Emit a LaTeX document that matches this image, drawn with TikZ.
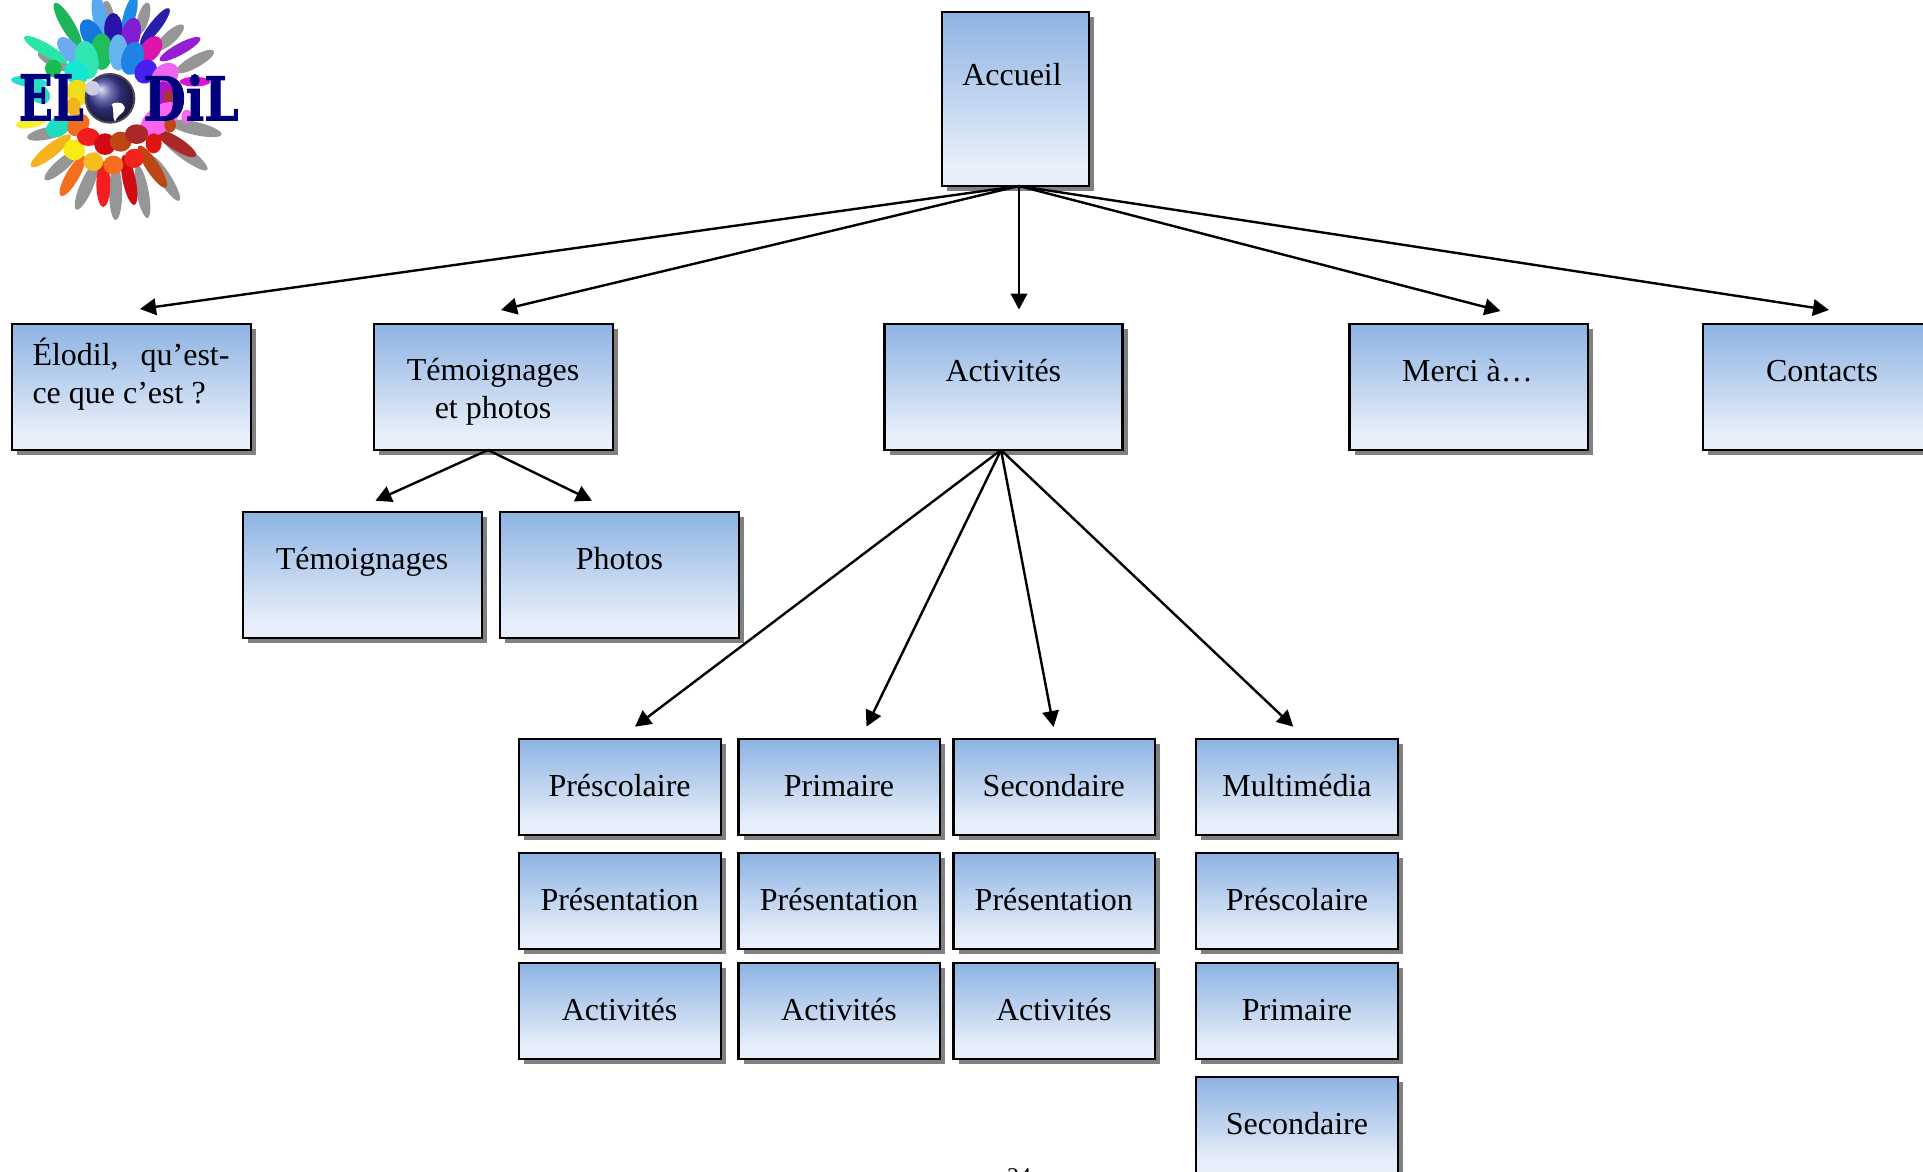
\documentclass[tikz,border=0pt]{standalone}
\usepackage{fontspec}
\usepackage{graphicx}
\setmainfont{Liberation Serif}
\newfontfamily\logofont[FakeBold=1.6]{DejaVu Serif}
\usetikzlibrary{arrows.meta,shadows}
\definecolor{boxtop}{RGB}{141,179,226}
\definecolor{boxbot}{RGB}{232,239,250}
\definecolor{shadowgray}{RGB}{128,128,128}
\definecolor{logonavy}{RGB}{0,0,125}
\pgfdeclareverticalshading{boxshade}{100bp}{color(0bp)=(boxbot); color(31bp)=(boxbot); color(75bp)=(boxtop); color(100bp)=(boxtop)}
\tikzset{
  boxnode/.style={rectangle,draw=black,line width=2.3pt,inner sep=0pt,outer sep=0pt,
    shading=boxshade,
    drop shadow={shadow xshift=5pt,shadow yshift=-5pt,fill=shadowgray,opacity=1}},
  boxtext/.style={inner sep=0pt,outer sep=0pt,anchor=base,text=black,
    font=\fontsize{32}{38}\selectfont},
  conn/.style={line width=2.4pt,-{Triangle[length=16pt,width=16.5pt]}}
}
% name, x1, y1, x2, y2
\newcommand{\hbx}[5]{\node[boxnode,minimum width={#4-#2},minimum height={#5-#3}] (#1) at ({(#2+#4)/2},{(#3+#5)/2}) {};}
% name, cx, baseline, text
\newcommand{\htx}[4]{\node[boxtext] (#1) at (#2,#3) {#4};}
% x1,y1,x2,y2,width,r,g,b : one petal of the logo, as an ellipse
\newcommand{\hpt}[8]{%
  \definecolor{pc}{RGB}{#6,#7,#8}%
  \pgfmathsetmacro{\pang}{atan2(#4-#2,#3-#1)}%
  \pgfmathsetmacro{\prx}{(veclen(#3-#1,#4-#2)/2+#5/2)/3}%
  \pgfmathsetmacro{\pry}{#5/2*1.3/3}%
  \fill[pc] ({(#1+#3)/2},{(#2+#4)/2}) ellipse [x radius=\prx pt,y radius=\pry pt,rotate=-\pang];}
\begin{document}
\begin{tikzpicture}[x=1pt,y=-1pt]
\path[use as bounding box,clip] (0,0) rectangle (1923,1171);
\fill[white] (0,0) rectangle (1923,1171);
% logo
\begin{scope}[x=0.3333pt,y=-0.3333pt]
\hpt{320}{15}{330}{90}{26}{150}{150}{150}
\hpt{440}{20}{420}{90}{26}{150}{150}{150}
\hpt{540}{85}{480}{140}{28}{150}{150}{150}
\hpt{630}{160}{540}{210}{28}{150}{150}{150}
\hpt{650}{400}{520}{370}{30}{150}{150}{150}
\hpt{610}{500}{490}{410}{30}{150}{150}{150}
\hpt{530}{590}{460}{480}{28}{150}{150}{150}
\hpt{440}{640}{415}{510}{28}{150}{150}{150}
\hpt{347}{645}{347}{510}{30}{150}{150}{150}
\hpt{235}{615}{285}{500}{30}{150}{150}{150}
\hpt{145}{530}{225}{460}{28}{150}{150}{150}
\hpt{95}{410}{190}{390}{28}{150}{150}{150}
\hpt{125}{165}{200}{205}{26}{150}{150}{150}
\hpt{172}{22}{235}{128}{30}{30}{180}{90}
\hpt{290}{0}{310}{100}{34}{90}{170}{240}
\hpt{402}{0}{375}{95}{28}{30}{140}{230}
\hpt{500}{35}{430}{125}{26}{40}{30}{170}
\hpt{590}{120}{490}{175}{26}{150}{30}{210}
\hpt{85}{118}{190}{180}{28}{40}{230}{170}
\hpt{45}{240}{130}{250}{24}{40}{220}{210}
\hpt{60}{375}{130}{360}{24}{245}{240}{50}
\hpt{105}{490}{200}{415}{30}{245}{180}{30}
\hpt{190}{575}{245}{480}{30}{245}{110}{30}
\hpt{310}{605}{310}{500}{32}{245}{30}{30}
\hpt{400}{600}{375}{480}{30}{210}{10}{20}
\hpt{490}{550}{425}{450}{30}{190}{70}{20}
\hpt{575}{460}{480}{400}{30}{170}{40}{40}
\hpt{550}{245}{620}{245}{22}{220}{20}{210}
\hpt{262}{80}{290}{130}{46}{20}{120}{220}
\hpt{340}{60}{340}{115}{42}{40}{20}{170}
\hpt{400}{75}{385}{135}{44}{130}{30}{210}
\hpt{465}{130}{440}{165}{44}{220}{20}{170}
\hpt{190}{130}{230}{175}{40}{110}{170}{240}
\hpt{305}{125}{305}{185}{50}{30}{190}{90}
\hpt{255}{150}{265}{210}{54}{50}{230}{180}
\hpt{355}{125}{355}{190}{44}{100}{180}{240}
\hpt{405}{150}{390}{200}{50}{30}{130}{230}
\hpt{155}{205}{165}{205}{40}{20}{190}{80}
\hpt{220}{210}{240}{225}{52}{20}{230}{210}
\hpt{445}{205}{430}{225}{50}{70}{30}{240}
\hpt{510}{215}{480}{240}{52}{240}{100}{240}
\hpt{490}{270}{490}{310}{52}{170}{20}{200}
\hpt{505}{290}{506}{290}{30}{170}{50}{60}
\hpt{510}{335}{450}{380}{60}{250}{100}{240}
\hpt{560}{350}{561}{350}{32}{250}{100}{240}
\hpt{510}{375}{511}{375}{34}{190}{70}{20}
\hpt{100}{270}{130}{290}{42}{40}{220}{190}
\hpt{230}{265}{240}{290}{52}{240}{220}{30}
\hpt{220}{320}{221}{320}{42}{240}{180}{30}
\hpt{160}{390}{190}{370}{44}{30}{220}{190}
\hpt{225}{385}{245}{365}{46}{240}{110}{30}
\hpt{225}{445}{220}{455}{50}{250}{235}{20}
\hpt{280}{490}{280}{480}{46}{245}{190}{30}
\hpt{340}{500}{340}{490}{46}{245}{110}{30}
\hpt{400}{470}{405}{480}{46}{245}{35}{30}
\hpt{460}{430}{462}{430}{46}{225}{20}{20}
\hpt{265}{410}{265}{412}{52}{240}{30}{30}
\hpt{315}{425}{315}{440}{50}{210}{10}{20}
\hpt{362}{420}{362}{430}{50}{190}{70}{20}
\hpt{410}{400}{410}{405}{54}{170}{40}{40}
\fill[black!70] (330,295) circle (76);
\shade[ball color=logonavy!75] (330,295) circle (70);
\fill[white!80!logonavy] (278,265) circle (22);
\fill[white] (335,312) .. controls (360,300) and (385,315) .. (370,335) .. controls (360,345) and (350,350) .. (345,365) .. controls (335,350) and (345,335) .. (335,312);
\node[inner sep=0pt,anchor=south west,text=logonavy] (logoel) at (56,362) {\resizebox{195\dimexpr 0.3333pt\relax}{46pt}{\logofont\bfseries EL}};
\node[inner sep=0pt,anchor=south west,text=logonavy] (logodil) at (430,362) {\resizebox{285\dimexpr 0.3333pt\relax}{46pt}{\logofont\bfseries DiL}};
\end{scope}
% boxes
\hbx{accueil}{942}{12}{1089}{186}
\hbx{elodil}{12}{324}{251}{450}
\hbx{temphotos}{374}{324}{613}{450}
\hbx{activites}{884.5}{324}{1122.5}{450}
\hbx{merci}{1349.5}{324}{1588}{450}
\hbx{contacts}{1703}{324}{1942}{450}
\hbx{temoign}{243}{512}{482}{638}
\hbx{photos}{500}{512}{739}{638}
\hbx{apre}{519}{739}{721}{835}
\hbx{bpri}{738.5}{739}{940}{835}
\hbx{csec}{953.5}{739}{1155}{835}
\hbx{dmul}{1196}{739}{1398}{835}
\hbx{apres}{519}{853}{721}{949}
\hbx{bpres}{738.5}{853}{940}{949}
\hbx{cpres}{953.5}{853}{1155}{949}
\hbx{dpre}{1196}{853}{1398}{949}
\hbx{aact}{519}{963}{721}{1059}
\hbx{bact}{738.5}{963}{940}{1059}
\hbx{cact}{953.5}{963}{1155}{1059}
\hbx{dpri}{1196}{963}{1398}{1059}
\hbx{dsec}{1196}{1077}{1398}{1173}
% texts
\htx{taccueil}{1012}{85.7}{Accueil}
\node[boxtext,anchor=base west,align=left] (telodil) at (32.5,403) {\hbox to 197pt{Élodil,\hfill qu’est-}\\ce que c’est ?};
\node[boxtext,align=center] (ttemphotos) at (493,418.3) {Témoignages\\et photos};
\htx{tactivites}{1003.4}{381}{Activités}
\htx{tmerci}{1467.5}{381}{Merci à…}
\htx{tcontacts}{1822}{381}{Contacts}
\htx{ttemoign}{362}{569.5}{Témoignages}
\htx{tphotos}{619.5}{569.5}{Photos}
\htx{tapre}{619.6}{796}{Préscolaire}
\htx{tbpri}{839}{796}{Primaire}
\htx{tcsec}{1053.8}{796}{Secondaire}
\htx{tdmul}{1297}{796}{Multimédia}
\htx{tapres}{619.6}{910}{Présentation}
\htx{tbpres}{839}{910}{Présentation}
\htx{tcpres}{1053.8}{910}{Présentation}
\htx{tdpre}{1297}{910}{Préscolaire}
\htx{taact}{619.6}{1020}{Activités}
\htx{tbact}{839}{1020}{Activités}
\htx{tcact}{1053.8}{1020}{Activités}
\htx{tdpri}{1297}{1020}{Primaire}
\htx{tdsec}{1297}{1134}{Secondaire}
% arrow ends
\coordinate (e1) at (140,309);
\coordinate (e2) at (501,310);
\coordinate (e3) at (1019,309.5);
\coordinate (e4) at (1500.5,311);
\coordinate (e5) at (1829,310);
\coordinate (e6) at (375.5,500.7);
\coordinate (e7) at (592,500.7);
\coordinate (e8) at (635,726.7);
\coordinate (e9) at (866.5,726.7);
\coordinate (e10) at (1053.6,727);
\coordinate (e11) at (1293.3,726.7);
\foreach \e in {e1,e2,e3,e4,e5}
  \draw[conn] ([xshift=3.5pt]accueil.south) -- (\e);
\foreach \e in {e6,e7}
  \draw[conn] ([xshift=-5.5pt]temphotos.south) -- (\e);
\foreach \e in {e8,e9,e10,e11}
  \draw[conn] ([xshift=-2.5pt]activites.south) -- (\e);
\node[inner sep=0pt,anchor=base,text=black,font=\fontsize{24}{28}\selectfont] (pagenum) at (1019,1184) {24};
\end{tikzpicture}
\end{document}
